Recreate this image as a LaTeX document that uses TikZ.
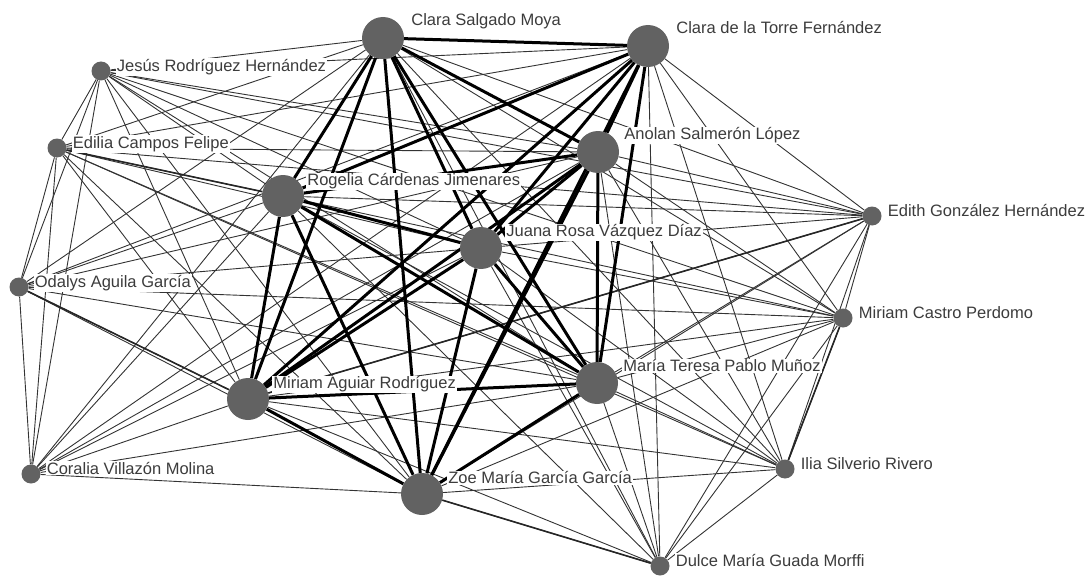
\documentclass[tikz,border=0pt]{standalone}
\usepackage{fontspec}
\setmainfont{Liberation Sans}
\usepackage{tikz}
\usetikzlibrary{calc,backgrounds}
\definecolor{nodegray}{RGB}{98,98,98}
\definecolor{namegray}{RGB}{60,60,60}

\begin{document}
\begin{tikzpicture}[x=1pt, y=-1pt,
        big/.style={circle, fill=nodegray, inner sep=0pt, minimum size=42pt},
        small/.style={circle, fill=nodegray, inner sep=0pt, minimum size=19pt},
        lbl/.style={anchor=base west, fill=white, inner sep=1pt, text=namegray,
            font=\fontsize{16.5}{19}\selectfont},
        weak/.style={line width=0.9pt, black!80},
        mid/.style={line width=1.6pt, black!85},
        strong/.style={line width=3pt, black}]
        \useasboundingbox (0,0) rectangle (1088,578);

        % core group
        \node[big] (cs) at (383,38) {};
        \node[big] (ct) at (648,46) {};
        \node[big] (as) at (598,152) {};
        \node[big] (rc) at (283,196) {};
        \node[big] (jr) at (481,248) {};
        \node[big] (ma) at (248,399) {};
        \node[big] (mt) at (597,383) {};
        \node[big] (zg) at (422,494) {};

        % periphery
        \node[small] (je) at (101,71) {};
        \node[small] (ec) at (57,148) {};
        \node[small] (oa) at (19,287) {};
        \node[small] (cv) at (31,474) {};
        \node[small] (eg) at (872,216) {};
        \node[small] (mc) at (843,318) {};
        \node[small] (is) at (785,469) {};
        \node[small] (dm) at (660,566) {};

        \begin{scope}[on background layer]
            \foreach \s in {je,ec,oa,cv,eg,mc,is,dm}
                \foreach \b in {cs,ct,as,rc,jr,ma,mt,zg}
                    \draw[weak] (\s) -- (\b);

            \foreach \a/\b in {je/ec, je/oa, je/cv, ec/oa, ec/cv, oa/cv,
                    eg/mc, eg/is, eg/dm, mc/is, mc/dm, is/dm,
                    je/eg, je/mc, ec/eg, ec/is, oa/mc}
                \draw[weak] (\a) -- (\b);

            \foreach \a/\b in {ec/rc, oa/ma, is/mc, zg/dm, eg/ma}
                \draw[mid] (\a) -- (\b);

            \foreach \a/\rest in {cs/{ct,as,rc,jr,ma,mt,zg}, ct/{as,rc,jr,ma,mt,zg},
                    as/{rc,jr,ma,mt,zg}, rc/{jr,ma,mt,zg}, jr/{ma,mt,zg},
                    ma/{mt,zg}, mt/{zg}}
                \foreach \b in \rest
                    \draw[strong] (\a) -- (\b);
        \end{scope}

        % names
        \node[lbl] (cs-l) at ($(cs.east |- cs.north)+(6,9)$) {Clara Salgado Moya};
        \node[lbl] (ct-l) at ($(ct.east |- ct.north)+(6,9)$) {Clara de la Torre Fernández};
        \node[lbl] (as-l) at ($(as.east |- as.north)+(4,9)$) {Anolan Salmerón López};
        \node[lbl] (rc-l) at ($(rc.east |- rc.north)+(2,11)$) {Rogelia Cárdenas Jimenares};
        \node[lbl] (jr-l) at ($(jr.east |- jr.north)+(3,10)$) {Juana Rosa Vázquez Díaz};
        \node[lbl] (ma-l) at ($(ma.east |- ma.north)+(3,11)$) {Miriam Aguiar Rodríguez};
        \node[lbl] (mt-l) at ($(mt.east |- mt.north)+(4,10)$) {María Teresa Pablo Muñoz};
        \node[lbl] (zg-l) at ($(zg.east |- zg.north)+(4,11)$) {Zoe María García García};
        \node[lbl] (je-l) at ($(je.east |- je.north)+(5,10)$) {Jesús Rodríguez Hernández};
        \node[lbl] (ec-l) at ($(ec.east |- ec.north)+(5,10)$) {Edilia Campos Felipe};
        \node[lbl] (oa-l) at ($(oa.east |- oa.north)+(5,10)$) {Odalys Aguila García};
        \node[lbl] (cv-l) at ($(cv.east |- cv.north)+(5,10)$) {Coralia Villazón Molina};
        \node[lbl] (eg-l) at ($(eg.east |- eg.north)+(5,10)$) {Edith González Hernández};
        \node[lbl] (mc-l) at ($(mc.east |- mc.north)+(5,10)$) {Miriam Castro Perdomo};
        \node[lbl] (is-l) at ($(is.east |- is.north)+(5,10)$) {Ilia Silverio Rivero};
        \node[lbl] (dm-l) at ($(dm.east |- dm.north)+(5,10)$) {Dulce María Guada Morffi};
    \end{tikzpicture}
\end{document}
